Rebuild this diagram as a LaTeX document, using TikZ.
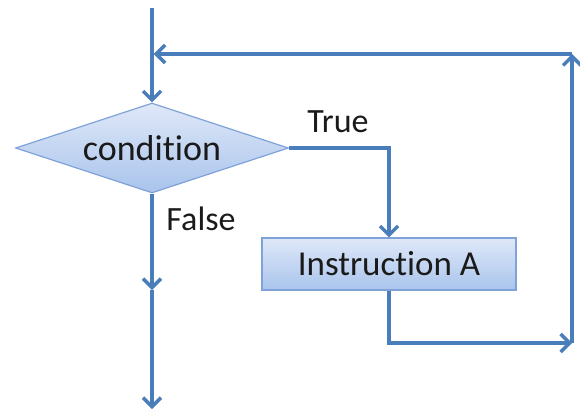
\documentclass[tikz,border=0pt]{standalone}
\usepackage{fontspec}
\setmainfont{Carlito}[Ligatures={NoCommon}]
\usetikzlibrary{shapes.geometric,arrows.meta}
\definecolor{lineblue}{HTML}{4A7EBB}
\definecolor{edgeblue}{HTML}{7FA2D8}
\definecolor{filltop}{HTML}{DFE8F8}
\definecolor{fillbot}{HTML}{A9C4EC}
\definecolor{textc}{HTML}{1A1A1A}
\tikzset{
  conn/.style={draw=lineblue, line width=3.4pt, line join=miter},
  tip/.style={-{Straight Barb[length=9pt,width=18pt,line width=3.4pt]}},
  decision/.style={shape=diamond, aspect=3, inner sep=0pt,
    minimum width=273pt, minimum height=90pt,
    draw=edgeblue, line width=1.2pt, top color=filltop, bottom color=fillbot,
    font=\fontsize{36}{42}\selectfont, text=textc},
  process/.style={shape=rectangle, inner sep=0pt,
    minimum width=254pt, minimum height=52pt,
    draw=edgeblue, line width=1.2pt, top color=filltop, bottom color=fillbot,
    font=\fontsize{35}{41}\selectfont, text=textc},
  lbl/.style={font=\fontsize{34}{40}\selectfont, text=textc, anchor=base, inner sep=0pt}
}
\begin{document}
\begin{tikzpicture}[x=1pt,y=-1pt]
\useasboundingbox (0,0) rectangle (580,410);
\node[decision] (cond) at (152,148) {condition};
\node[process] (instr) at (389,264) {Instruction A};
\coordinate (start) at (152,8);
\coordinate (truecorner) at (389,148);
\coordinate (falsemid) at (152,290);
\coordinate (falseend) at (152,409);
\coordinate (b1) at (389,343);
\coordinate (b2) at (572,343);
\coordinate (b3) at (572,54);
\coordinate (b4) at (153.7,54);
\draw[conn,tip] (start) -- (cond.north);
\draw[conn,tip] (cond.east) -- (truecorner) -- (instr.north);
\draw[conn,tip] (cond.south) -- (falsemid);
\draw[conn,tip] (falsemid) -- (falseend);
\draw[conn,tip] (instr.south) -- (b1) -- (b2);
\draw[conn,tip] (b2) -- (b3);
\draw[conn,tip] (b3) -- (b4);
\node[lbl] (truelbl) at (338,132) {True};
\node[lbl] (falselbl) at (201,230) {False};
\end{tikzpicture}
\end{document}
